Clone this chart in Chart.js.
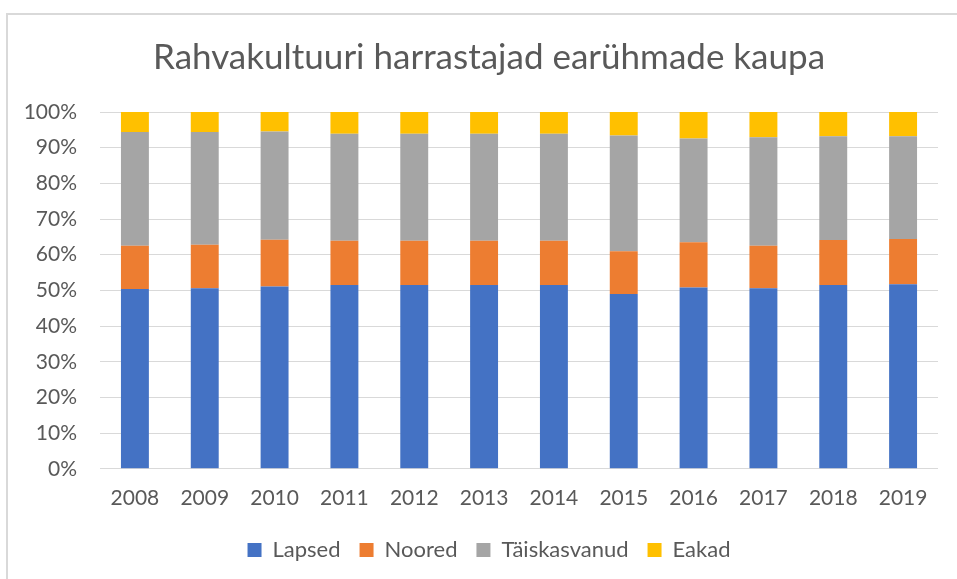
<!DOCTYPE html>
<html>
<head>
<meta charset="utf-8">
<script src="https://cdn.jsdelivr.net/npm/chart.js@4"></script>
<style>
  html, body { margin: 0; padding: 0; background: #fff; overflow: hidden; }
  #frame {
    position: absolute; left: 6px; top: 13px; width: 1000px; height: 600px;
    border: 2px solid #d9d9d9; box-sizing: border-box;
  }
  #wrap { position: absolute; left: 0; top: 0; width: 957px; height: 579px; }
</style>
</head>
<body>
<div id="frame"></div>
<div id="wrap"><canvas id="chart"></canvas></div>
<script>
const years = ["2008", "2009", "2010", "2011", "2012", "2013", "2014", "2015", "2016", "2017", "2018", "2019"];
const lapsed = [50.4, 50.6, 51.1, 51.5, 51.5, 51.5, 51.5, 49.0, 50.8, 50.6, 51.5, 51.7];
const noored = [12.1, 12.2, 13.1, 12.4, 12.4, 12.4, 12.4, 12.0, 12.7, 11.9, 12.6, 12.7];
const taiskasvanud = [31.9, 31.6, 30.3, 30.0, 30.0, 30.0, 30.0, 32.4, 29.1, 30.4, 29.1, 28.8];
const eakad = [5.6, 5.6, 5.5, 6.1, 6.1, 6.1, 6.1, 6.6, 7.4, 7.1, 6.8, 6.8];

const textColor = "#595959";
const fontName = "Lato, sans-serif";

function makeSet(label, data, color) {
    return {
        label: label,
        data: data,
        backgroundColor: color,
        borderWidth: 0,
        barPercentage: 0.4,
        categoryPercentage: 1.0,
    };
}

// y labels stick out left of the padded area, so widen the label clip box
const unclipY = {
    id: "unclipY",
    afterLayout(chart) {
        chart.scales.y.left = 0;
    },
};

new Chart(document.getElementById("chart"), {
    type: "bar",
    data: {
        labels: years,
        datasets: [
            makeSet("Lapsed", lapsed, "#4472C4"),
            makeSet("Noored", noored, "#ED7D31"),
            makeSet("Täiskasvanud", taiskasvanud, "#A5A5A5"),
            makeSet("Eakad", eakad, "#FFC000"),
        ],
    },
    plugins: [unclipY],
    options: {
        responsive: true,
        maintainAspectRatio: false,
        animation: false,
        layout: { padding: { top: 20, left: 40, right: 19, bottom: 8 } },
        plugins: {
            title: {
                display: true,
                text: "Rahvakultuuri harrastajad earühmade kaupa",
                color: textColor,
                font: { family: fontName, size: 35, weight: "normal" },
                padding: { top: 17, bottom: 33 },
            },
            legend: {
                position: "bottom",
                labels: {
                    color: textColor,
                    font: { family: fontName, size: 22 },
                    boxWidth: 14,
                    boxHeight: 14,
                    padding: 19,
                },
            },
            tooltip: { enabled: false },
        },
        scales: {
            x: {
                stacked: true,
                grid: { display: false },
                border: { display: false },
                ticks: {
                    color: textColor,
                    font: { family: fontName, size: 21, lineHeight: 1.486 },
                    padding: 6,
                    maxRotation: 0,
                },
            },
            y: {
                stacked: true,
                min: 0,
                max: 100,
                afterFit: (axis) => { axis.width = 60; },
                grid: { color: "#d9d9d9", drawTicks: false },
                border: { display: false },
                ticks: {
                    stepSize: 10,
                    color: textColor,
                    font: { family: fontName, size: 21 },
                    padding: 23,
                    callback: (v) => v + "%",
                },
            },
        },
    },
});
</script>
</body>
</html>
